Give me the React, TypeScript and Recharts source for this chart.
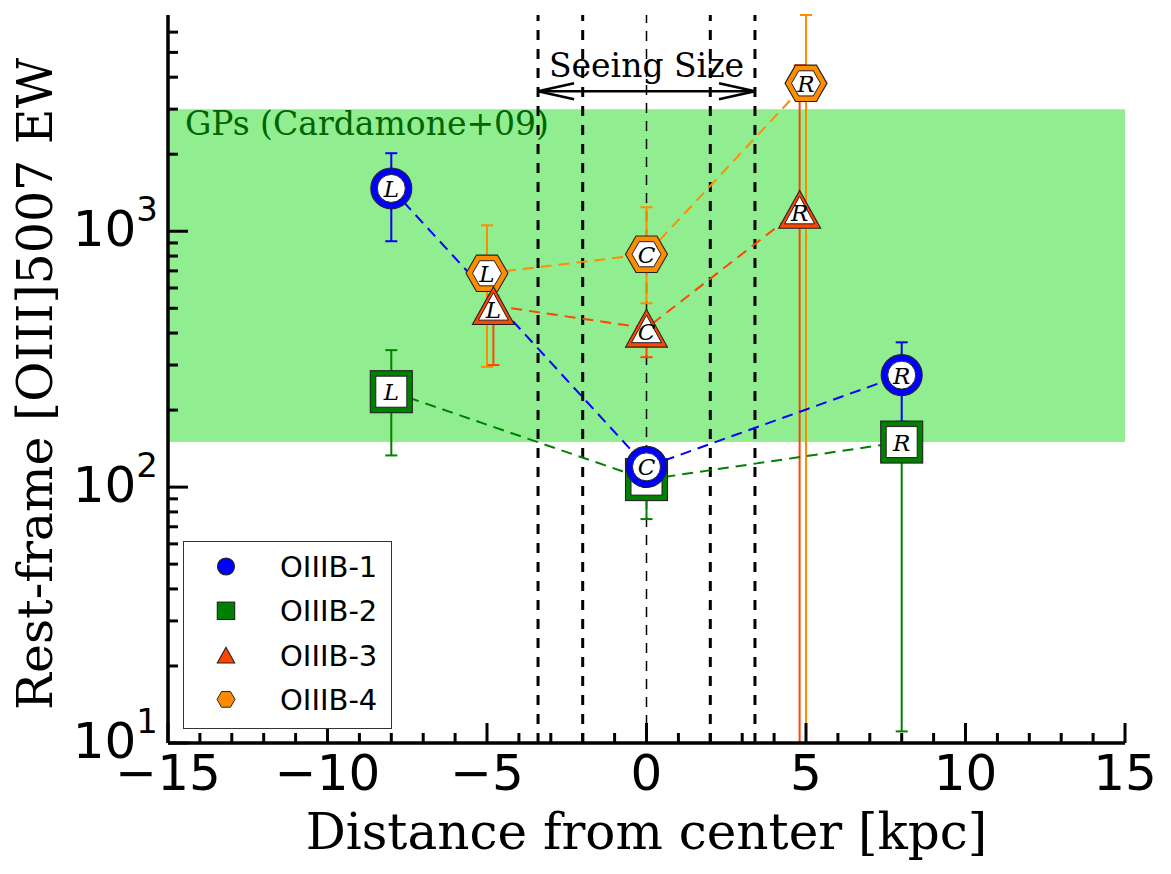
import React from "react";
import {
    ComposedChart,
    Scatter,
    XAxis,
    YAxis,
    ErrorBar,
    ReferenceArea,
    ReferenceLine,
    Legend,
} from "recharts";

// position tags along the slit
const TAGS = ["L", "C", "R"];

// OIIIB-1 (blue circles)
const X1 = [-8, 0, 8];
const Y1 = [1470, 120, 274];
const LO1 = [914, 112, 180];
const HI1 = [2018, 128, 368];

// OIIIB-2 (green squares)
const X2 = [-8, 0, 8];
const Y2 = [236, 107, 150];
const LO2 = [133, 75, 11.1];
const HI2 = [343, 125, 170];

// OIIIB-3 (orange-red triangles); the R lower bar runs off the bottom of the axes
const X3 = [-4.8, 0, 4.8];
const Y3 = [512, 418, 1218];
const LO3 = [300, 322, 10];
const HI3 = [560, 440, 4450];

// OIIIB-4 (orange hexagons); the R bar runs off both ends of the axes
const X4 = [-5, 0, 5];
const Y4 = [685, 813, 3784];
const LO4 = [295, 523, 10];
const HI4 = [1055, 1241, 7000];

// green-pea range (Cardamone+09)
const GP_RANGE = [150, 3000];
// seeing size lines
const SEEING_OUTER = [-3.4, 3.4];
const SEEING_INNER = [-2, 2];
const ARROW_Y = 3525;

const X_TICKS = Array.from({ length: 31 }, (_, i) => i - 15);
const Y_MAJOR = [10, 100, 1000];
const Y_TICKS = [
    10, 20, 30, 40, 50, 60, 70, 80, 90,
    100, 200, 300, 400, 500, 600, 700, 800, 900,
    1000, 2000, 3000, 4000, 5000, 6000,
];

type Kind = "circle" | "square" | "triangle" | "hexagon";

interface Series {
    name: string;
    kind: Kind;
    color: string;
    xs: number[];
    ys: number[];
    lo: number[];
    hi: number[];
}

const S1: Series = { name: "OIIIB-1", kind: "circle", color: "#0000ff", xs: X1, ys: Y1, lo: LO1, hi: HI1 };
const S2: Series = { name: "OIIIB-2", kind: "square", color: "#008000", xs: X2, ys: Y2, lo: LO2, hi: HI2 };
const S3: Series = { name: "OIIIB-3", kind: "triangle", color: "#ff4500", xs: X3, ys: Y3, lo: LO3, hi: HI3 };
const S4: Series = { name: "OIIIB-4", kind: "hexagon", color: "#ff8c00", xs: X4, ys: Y4, lo: LO4, hi: HI4 };

const LEGEND_ORDER = [S1, S2, S3, S4];
const DRAW_ORDER = [S2, S1, S4, S3];

const toRows = (s: Series) =>
    s.xs.map((x, i) => ({
        x,
        y: s.ys[i],
        err: [s.ys[i] - s.lo[i], s.hi[i] - s.ys[i]],
        tag: TAGS[i],
    }));

const EDGE = "#222";
const SANS = "DejaVu Sans";
const SERIF = "DejaVu Serif";

function hexPoints(cx: number, cy: number, r: number) {
    const pts: string[] = [];
    for (let i = 0; i < 6; i++) {
        const a = (Math.PI / 3) * i;
        pts.push(`${cx + r * Math.cos(a)},${cy + r * Math.sin(a)}`);
    }
    return pts.join(" ");
}

function Shape({ kind, color, cx, cy, big }: { kind: Kind; color: string; cx: number; cy: number; big: number }) {
    if (kind === "circle") return <circle cx={cx} cy={cy} r={big} fill={color} stroke={EDGE} strokeWidth={1.1} />;
    if (kind === "square")
        return <rect x={cx - big} y={cy - big} width={big * 2} height={big * 2} fill={color} stroke={EDGE} strokeWidth={1.1} />;
    if (kind === "hexagon") return <polygon points={hexPoints(cx, cy, big)} fill={color} stroke={EDGE} strokeWidth={1.1} />;
    const h = big * 0.9;
    return (
        <polygon
            points={`${cx},${cy - h} ${cx - big},${cy + h} ${cx + big},${cy + h}`}
            fill={color}
            stroke={EDGE}
            strokeWidth={1.1}
        />
    );
}

function Marker({ kind, color, cx, cy, tag }: { kind: Kind; color: string; cx: number; cy: number; tag: string }) {
    if (cx == null || cy == null) return <g />;
    let inner: React.ReactNode;
    if (kind === "circle") inner = <circle cx={cx} cy={cy} r={14} fill="#fff" stroke={EDGE} strokeWidth={1} />;
    else if (kind === "square")
        inner = <rect x={cx - 15.5} y={cy - 15.5} width={31} height={31} fill="#fff" stroke={EDGE} strokeWidth={1} />;
    else if (kind === "hexagon") inner = <polygon points={hexPoints(cx, cy, 14.5)} fill="#fff" stroke={EDGE} strokeWidth={1} />;
    else
        inner = (
            <polygon
                points={`${cx},${cy - 13} ${cx - 15},${cy + 14.5} ${cx + 15},${cy + 14.5}`}
                fill="#fff"
                stroke={EDGE}
                strokeWidth={1}
            />
        );
    return (
        <g>
            <Shape kind={kind} color={color} cx={cx} cy={cy} big={kind === "circle" ? 20.5 : 21} />
            {inner}
            <text
                x={cx}
                y={cy + (kind === "triangle" ? 12 : 8.5)}
                textAnchor="middle"
                fontFamily={SERIF}
                fontStyle="italic"
                fontSize={23}
                fill="#000"
            >
                {tag}
            </text>
        </g>
    );
}

const fmtX = (v: number) => (v < 0 ? "\u2212" + Math.abs(v) : String(v));

function BottomTick(props: any) {
    const { x, y, payload } = props;
    const v = payload.value;
    const major = v % 5 === 0;
    return (
        <g>
            <line x1={x} y1={y} x2={x} y2={y - (major ? 20 : 10)} stroke="#000" strokeWidth={3} />
            {major && (
                <text x={x} y={y + 47} textAnchor="middle" fontFamily={SANS} fontSize={50} fill="#000">
                    {fmtX(v)}
                </text>
            )}
        </g>
    );
}

function TopTick(props: any) {
    const { x, y, payload } = props;
    const major = payload.value % 5 === 0;
    return <line x1={x} y1={y} x2={x} y2={y + (major ? 20 : 10)} stroke="#000" strokeWidth={3} />;
}

function LeftTick(props: any) {
    const { x, y, payload } = props;
    const v = payload.value;
    const major = Y_MAJOR.includes(v);
    return (
        <g>
            <line x1={x} y1={y} x2={x + (major ? 20 : 10)} y2={y} stroke="#000" strokeWidth={3} />
            {major && (
                <text x={x - 10} y={y + 15} textAnchor="end" fontFamily={SANS} fontSize={50} fill="#000">
                    10
                    <tspan dy={-25} fontSize={34}>
                        {Math.round(Math.log10(v))}
                    </tspan>
                </text>
            )}
        </g>
    );
}

function RightTick(props: any) {
    const { x, y, payload } = props;
    const major = Y_MAJOR.includes(payload.value);
    return <line x1={x} y1={y} x2={x - (major ? 20 : 10)} y2={y} stroke="#000" strokeWidth={3} />;
}

function ArrowShape(props: any) {
    const { x1, y1, x2 } = props;
    if (x1 == null) return <g />;
    return (
        <g stroke="#000" strokeWidth={2.5} fill="none">
            <line x1={x1} y1={y1} x2={x2} y2={y1} />
            <path d={`M${x1 + 36},${y1 - 8} L${x1},${y1} L${x1 + 36},${y1 + 8}`} />
            <path d={`M${x2 - 36},${y1 - 8} L${x2},${y1} L${x2 - 36},${y1 + 8}`} />
        </g>
    );
}

function LegendIcon({ kind, color, cx, cy }: { kind: Kind; color: string; cx: number; cy: number }) {
    if (kind === "hexagon") return <polygon points={hexPoints(cx, cy, 9)} fill={color} stroke={EDGE} strokeWidth={1} />;
    return <Shape kind={kind} color={color} cx={cx} cy={cy} big={kind === "circle" ? 8.5 : 8.7} />;
}

function LegendBox() {
    return (
        <div style={{ width: 209, height: 188, border: "1.5px solid #333", boxSizing: "border-box", background: "#fff" }}>
            <svg width={206} height={185} style={{ display: "block" }}>
                {LEGEND_ORDER.map((s, i) => {
                    const cy = 24.5 + i * 44.3;
                    return (
                        <g key={s.name}>
                            <LegendIcon kind={s.kind} color={s.color} cx={42} cy={cy} />
                            <text x={96} y={cy + 10.5} fontFamily={SANS} fontSize={29} fill="#000">
                                {s.name}
                            </text>
                        </g>
                    );
                })}
            </svg>
        </div>
    );
}

export default function App() {
    return (
        <div style={{ position: "absolute", left: 0, top: 0, background: "#fff" }}>
            <ComposedChart width={1171} height={874} margin={{ top: 15, right: 46, bottom: 0, left: 0 }}>
                <XAxis
                    xAxisId="b"
                    type="number"
                    dataKey="x"
                    domain={[-15, 15]}
                    allowDataOverflow
                    ticks={X_TICKS}
                    interval={0}
                    height={131}
                    tickSize={0}
                    tickMargin={0}
                    tickLine={false}
                    axisLine={{ stroke: "#000", strokeWidth: 3.5 }}
                    tick={<BottomTick />}
                    label={{
                        content: (p: any) => (
                            <text
                                x={p.viewBox.x + p.viewBox.width / 2}
                                y={p.viewBox.y + 106}
                                textAnchor="middle"
                                fontFamily={SERIF}
                                fontSize={50}
                                fill="#000"
                            >
                                Distance from center [kpc]
                            </text>
                        ),
                    }}
                />
                <XAxis
                    xAxisId="t"
                    orientation="top"
                    type="number"
                    dataKey="x"
                    domain={[-15, 15]}
                    allowDataOverflow
                    ticks={X_TICKS}
                    interval={0}
                    height={0}
                    tickSize={0}
                    tickMargin={0}
                    tickLine={false}
                    axisLine={{ stroke: "#000", strokeWidth: 3.5 }}
                    tick={<TopTick />}
                />
                <YAxis
                    yAxisId="l"
                    type="number"
                    dataKey="y"
                    scale="log"
                    domain={[10, 7000]}
                    allowDataOverflow
                    ticks={Y_TICKS}
                    interval={0}
                    width={168}
                    tickSize={0}
                    tickMargin={0}
                    tickLine={false}
                    axisLine={{ stroke: "#000", strokeWidth: 3.5 }}
                    tick={<LeftTick />}
                    label={{
                        content: (p: any) => (
                            <text
                                transform={`translate(52, ${p.viewBox.y + p.viewBox.height / 2 + 5}) rotate(-90)`}
                                textAnchor="middle"
                                fontFamily={SERIF}
                                fontSize={49}
                                fill="#000"
                            >
                                Rest-frame [OIII]5007 EW
                            </text>
                        ),
                    }}
                />
                <YAxis
                    yAxisId="r"
                    orientation="right"
                    type="number"
                    dataKey="y"
                    scale="log"
                    domain={[10, 7000]}
                    allowDataOverflow
                    ticks={Y_TICKS}
                    interval={0}
                    width={0}
                    tickSize={0}
                    tickMargin={0}
                    tickLine={false}
                    axisLine={{ stroke: "#000", strokeWidth: 3.5 }}
                    tick={<RightTick />}
                />

                <ReferenceArea
                    xAxisId="b"
                    yAxisId="l"
                    x1={-15}
                    x2={15}
                    y1={GP_RANGE[0]}
                    y2={GP_RANGE[1]}
                    fill="#90ee90"
                    fillOpacity={1}
                    stroke="none"
                    label={{
                        content: (p: any) => (
                            <text
                                x={p.viewBox.x + 17}
                                y={p.viewBox.y + 26}
                                fontFamily={SERIF}
                                fontSize={33}
                                fill="#006400"
                            >
                                GPs (Cardamone+09)
                            </text>
                        ),
                    }}
                />

                {[...SEEING_OUTER, ...SEEING_INNER].map((v) => (
                    <ReferenceLine
                        key={v}
                        xAxisId="b"
                        yAxisId="l"
                        x={v}
                        stroke="#000"
                        strokeWidth={3}
                        strokeDasharray="10 9"
                    />
                ))}
                <ReferenceLine xAxisId="b" yAxisId="l" x={0} stroke="#000" strokeWidth={1.5} strokeDasharray="10 8" />
                <ReferenceLine
                    xAxisId="b"
                    yAxisId="l"
                    segment={[
                        { x: SEEING_OUTER[0], y: ARROW_Y },
                        { x: SEEING_OUTER[1], y: ARROW_Y },
                    ]}
                    shape={ArrowShape}
                    label={{
                        content: (p: any) => (
                            <text
                                x={p.viewBox.x + p.viewBox.width / 2}
                                y={p.viewBox.y - 14}
                                textAnchor="middle"
                                fontFamily={SERIF}
                                fontSize={33}
                                fill="#000"
                            >
                                Seeing Size
                            </text>
                        ),
                    }}
                />

                {DRAW_ORDER.map((s) => (
                    <Scatter
                        key={s.name}
                        name={s.name}
                        xAxisId="b"
                        yAxisId="l"
                        data={toRows(s)}
                        dataKey="y"
                        isAnimationActive={false}
                        line={{ stroke: s.color, strokeWidth: 2, strokeDasharray: "11 7" }}
                        lineType="joint"
                        shape={(p: any) => (
                            <Marker kind={s.kind} color={s.color} cx={p.cx} cy={p.cy} tag={p.payload?.tag} />
                        )}
                    >
                        <ErrorBar
                            dataKey="err"
                            direction="y"
                            width={6}
                            stroke={s.color}
                            strokeWidth={2}
                            isAnimationActive={false}
                        />
                    </Scatter>
                ))}

                <Legend
                    layout="horizontal"
                    verticalAlign="middle"
                    align="center"
                    wrapperStyle={{ left: 183, top: 541, width: 209, height: 188 }}
                    content={() => <LegendBox />}
                />
            </ComposedChart>
        </div>
    );
}
